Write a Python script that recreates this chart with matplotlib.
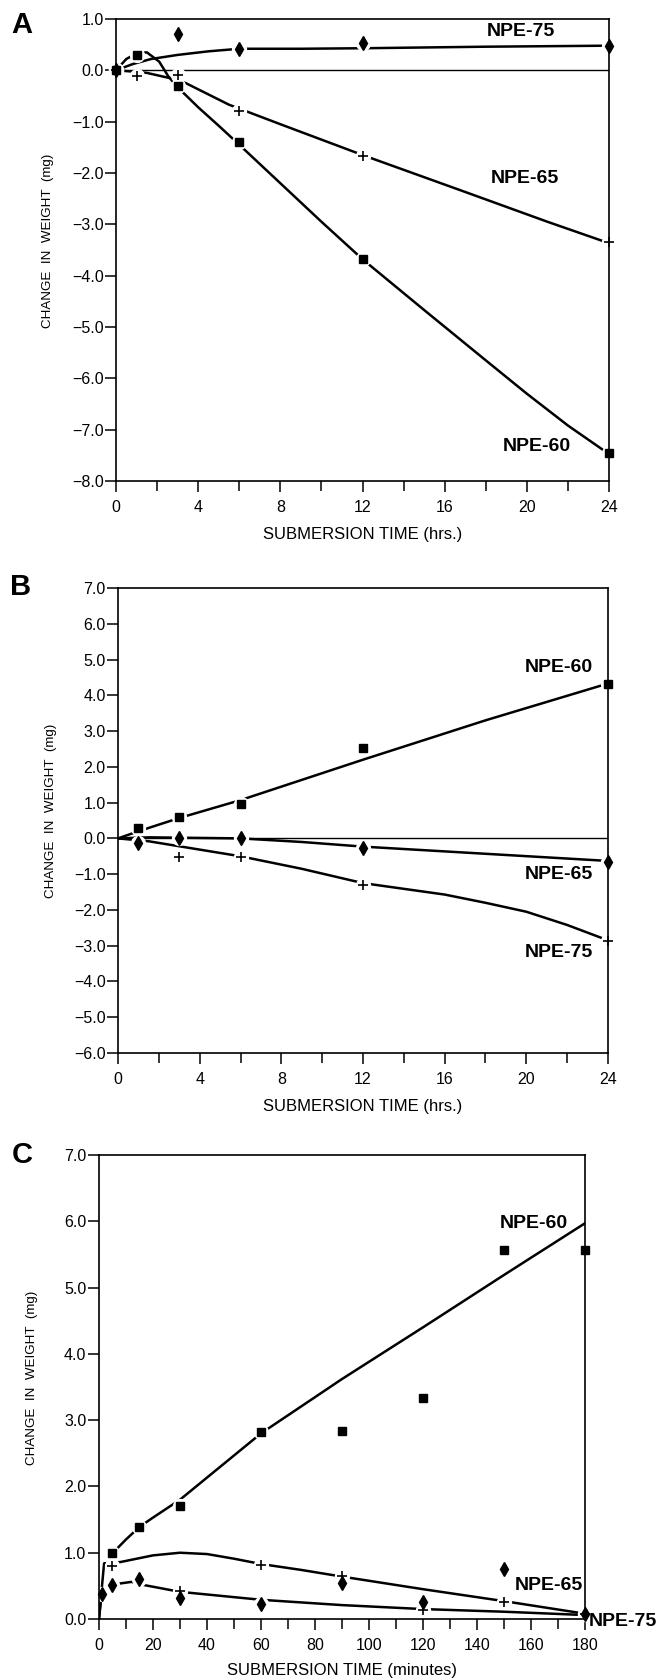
import matplotlib
matplotlib.use("Agg")
from matplotlib import pyplot as plt
from matplotlib.ticker import MultipleLocator, FuncFormatter

plt.rcParams['font.family'] = ['Liberation Sans', 'DejaVu Sans']

# ---- panel A (hours) ----
hrs_a = [0, 1, 3, 6, 12, 24]
a_npe60 = [0, 0.30, -0.31, -1.39, -3.68, -7.46]
a_npe65 = [0, -0.11, -0.09, -0.79, -1.67, -3.34]
hrs_a75 = [0, 3, 6, 12, 24]
a_npe75 = [0, 0.70, 0.41, 0.53, 0.48]

# fitted curves as drawn in the figure
a_fit60_x = [0, 0.5, 1.0, 1.5, 2.1, 2.55, 3.0, 4.0, 5.0, 6.0, 8.0, 10.0, 12.0, 15.0, 18.0, 20.0, 22.0, 23.8]
a_fit60_y = [0, 0.22, 0.33, 0.35, 0.17, -0.12, -0.33, -0.72, -1.08, -1.45, -2.2, -2.95, -3.68, -4.67, -5.65, -6.3, -6.92, -7.42]
a_fit65_x = [0, 1.0, 1.5, 2.6, 3.4, 5.5, 8.0, 12.0, 17.0, 21.0, 23.8]
a_fit65_y = [0, -0.03, -0.05, -0.15, -0.25, -0.67, -1.05, -1.65, -2.37, -2.95, -3.34]
a_fit75_x = [0, 0.8, 1.7, 3.0, 4.5, 6.0, 9.0, 12.0, 18.0, 24.0]
a_fit75_y = [0, 0.12, 0.22, 0.30, 0.37, 0.42, 0.42, 0.43, 0.46, 0.48]

# ---- panel B (hours) ----
hrs_b = [1, 3, 6, 12, 24]
b_npe60 = [0.30, 0.60, 0.97, 2.52, 4.33]
b_npe65 = [-0.12, 0.0, 0.02, -0.28, -0.65]
hrs_b75 = [3, 6, 12, 24]
b_npe75 = [-0.51, -0.51, -1.29, -2.88]

b_fit60_x = [0, 1, 3, 6, 12, 18, 24]
b_fit60_y = [0, 0.2, 0.57, 1.07, 2.2, 3.3, 4.33]
b_fit65_x = [0, 1.5, 3, 6, 9, 12, 18, 24]
b_fit65_y = [0, 0.03, 0.02, 0.0, -0.1, -0.23, -0.43, -0.63]
b_fit75_x = [0, 1.5, 3, 6, 9, 12, 16, 18, 20, 22, 24]
b_fit75_y = [0, -0.08, -0.22, -0.5, -0.85, -1.25, -1.57, -1.8, -2.05, -2.42, -2.85]

# ---- panel C (minutes) ----
min_c = [5, 15, 30, 60, 90, 120, 150, 180]
c_npe60 = [1.0, 1.39, 1.70, 2.82, 2.83, 3.34, 5.56, 5.56]
min_c_dia = [1, 5, 15, 30, 60, 90, 120, 150, 180]
c_dia = [0.37, 0.51, 0.60, 0.32, 0.23, 0.54, 0.26, 0.75, 0.08]
min_c_plus = [5, 30, 60, 90, 120, 150, 180]
c_plus = [0.80, 0.42, 0.82, 0.65, 0.14, 0.26, 0.08]

c_fit60_x = [4, 10, 15, 20, 30, 45, 60, 90, 120, 150, 180]
c_fit60_y = [0.95, 1.2, 1.39, 1.53, 1.8, 2.3, 2.8, 3.62, 4.4, 5.19, 5.97]
c_fitup_x = [0, 1, 1.9, 5, 8, 20, 30, 40, 50, 60, 75, 90, 120, 150, 180]
c_fitup_y = [0, 0.45, 0.84, 0.85, 0.86, 0.96, 1.0, 0.98, 0.91, 0.83, 0.74, 0.64, 0.45, 0.27, 0.08]
c_fitlo_x = [0, 1, 5, 12, 17, 30, 60, 90, 120, 150, 180]
c_fitlo_y = [0, 0.39, 0.52, 0.56, 0.51, 0.41, 0.29, 0.21, 0.15, 0.11, 0.06]

YLABEL = "CHANGE  IN  WEIGHT  (mg)"
LBL = dict(fontsize=14, fontweight='bold', va='center')


def minus_fmt(v, pos):
    return ("%.1f" % v).replace("-", "\u2212")


def pts(ax, x, y, marker, ms, mew=1.0):
    # white halo to break the fitted line around each point, then the marker
    ax.plot(x, y, 'o', color='white', ms=10, zorder=2.2, clip_on=False)
    ax.plot(x, y, marker, color='black', ms=ms, mew=mew, zorder=3, clip_on=False)


def style(ax, xmaj, xmin, xlabel):
    for s in ax.spines.values():
        s.set_linewidth(1.2)
        s.set_zorder(2.5)
    ax.xaxis.set_major_locator(MultipleLocator(xmaj))
    ax.xaxis.set_minor_locator(MultipleLocator(xmin))
    ax.yaxis.set_major_locator(MultipleLocator(1.0))
    ax.yaxis.set_major_formatter(FuncFormatter(minus_fmt))
    ax.tick_params(axis='both', which='both', direction='out', top=False, right=False,
                   width=1.1, labelsize=11.5)
    ax.tick_params(axis='x', which='major', length=8, pad=6)
    ax.tick_params(axis='x', which='minor', length=7)
    ax.tick_params(axis='y', which='major', length=8, pad=1)
    ax.set_xlabel(xlabel, fontsize=12, labelpad=8)
    ax.set_ylabel(YLABEL, fontsize=9.6)
    ax.yaxis.set_label_coords(-0.125, 0.52)


fig = plt.figure(figsize=(6.63, 16.8), dpi=100)
lw = 1.8

# Panel A
axA = fig.add_axes([0.175, 0.7137, 0.7436, 0.275])
axA.plot(a_fit60_x, a_fit60_y, color='black', lw=lw, zorder=2)
axA.plot(a_fit65_x, a_fit65_y, color='black', lw=lw, zorder=2)
axA.plot(a_fit75_x, a_fit75_y, color='black', lw=lw, zorder=2)
axA.axhline(0, color='black', lw=1.0, zorder=1.5)
pts(axA, hrs_a, a_npe60, 's', 5.5)
pts(axA, hrs_a, a_npe65, '+', 7, 1.2)
pts(axA, hrs_a75, a_npe75, 'd', 7)
axA.set_xlim(0, 24)
axA.set_ylim(-8, 1)
style(axA, 4, 2, "SUBMERSION TIME (hrs.)")
axA.text(19.7, 0.75, "NPE-75", ha='center', **LBL)
axA.text(19.9, -2.1, "NPE-65", ha='center', **LBL)
axA.text(20.5, -7.32, "NPE-60", ha='center', **LBL)

# Panel B
axB = fig.add_axes([0.178, 0.3732, 0.739, 0.2768])
axB.plot(b_fit60_x, b_fit60_y, color='black', lw=lw, zorder=2)
axB.plot(b_fit65_x, b_fit65_y, color='black', lw=lw, zorder=2)
axB.plot(b_fit75_x, b_fit75_y, color='black', lw=lw, zorder=2)
axB.axhline(0, color='black', lw=1.0, zorder=1.5)
pts(axB, hrs_b, b_npe60, 's', 5.5)
pts(axB, hrs_b, b_npe65, 'd', 7)
pts(axB, hrs_b75, b_npe75, '+', 7, 1.2)
axB.set_xlim(0, 24)
axB.set_ylim(-6, 7)
style(axB, 4, 2, "SUBMERSION TIME (hrs.)")
axB.text(21.6, 4.78, "NPE-60", ha='center', **LBL)
axB.text(21.6, -1.01, "NPE-65", ha='center', **LBL)
axB.text(21.6, -3.2, "NPE-75", ha='center', **LBL)

# Panel C
axC = fig.add_axes([0.1493, 0.0363, 0.733, 0.2762])
axC.plot(c_fit60_x, c_fit60_y, color='black', lw=lw, zorder=2)
axC.plot(c_fitup_x, c_fitup_y, color='black', lw=lw, zorder=2)
axC.plot(c_fitlo_x, c_fitlo_y, color='black', lw=lw, zorder=2)
pts(axC, min_c, c_npe60, 's', 5.5)
pts(axC, min_c_dia, c_dia, 'd', 7)
pts(axC, min_c_plus, c_plus, '+', 7, 1.2)
axC.set_xlim(0, 180)
axC.set_ylim(0, 7)
style(axC, 20, 10, "SUBMERSION TIME (minutes)")
axC.xaxis.labelpad = 7
axC.text(161, 5.97, "NPE-60", ha='center', **LBL)
axC.text(166.6, 0.51, "NPE-65", ha='center', **LBL)
axC.text(181.5, -0.04, "NPE-75", ha='left', **LBL)

# panel letters
fig.text(22 / 663, 1 - 25 / 1680, "A", fontsize=21, fontweight='bold', ha='center', va='center')
fig.text(21 / 663, 1 - 587 / 1680, "B", fontsize=21, fontweight='bold', ha='center', va='center')
fig.text(22 / 663, 1 - 1155 / 1680, "C", fontsize=21, fontweight='bold', ha='center', va='center')

fig.savefig("out.png", dpi=100)
